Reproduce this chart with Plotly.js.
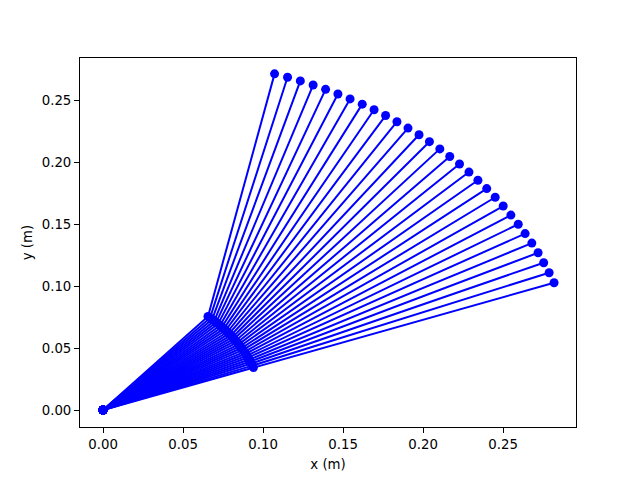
<!DOCTYPE html>
<html>
<head>
<meta charset="utf-8">
<script src="https://cdn.plot.ly/plotly-3.0.1.min.js"></script>
<style>html,body{margin:0;padding:0;background:#fff}#plot{width:640px;height:480px}</style>
</head>
<body>
<div id="plot"></div>
<script>
// Base joint
const baseX = 0.0, baseY = 0.0;
// Elbow positions (m)
const elbowX = [0.0656,0.0669,0.0682,0.0695,0.0707,0.0719,0.0731,0.0743,0.0755,0.0766,
                0.0777,0.0788,0.0799,0.0809,0.0819,0.0829,0.0839,0.0848,0.0857,0.0866,
                0.0875,0.0883,0.0891,0.0899,0.0906,0.0914,0.0921,0.0927,0.0934,0.0940];
const elbowY = [0.0755,0.0743,0.0731,0.0719,0.0707,0.0695,0.0682,0.0669,0.0656,0.0643,
                0.0629,0.0616,0.0602,0.0588,0.0574,0.0559,0.0545,0.0530,0.0515,0.0500,
                0.0485,0.0469,0.0454,0.0438,0.0423,0.0407,0.0391,0.0375,0.0358,0.0342];
// End-effector positions (m)
const endX = [0.1072,0.1153,0.1233,0.1313,0.1391,0.1468,0.1544,0.1620,0.1694,0.1766,
              0.1837,0.1906,0.1975,0.2040,0.2105,0.2167,0.2228,0.2287,0.2343,0.2398,
              0.2451,0.2501,0.2549,0.2595,0.2638,0.2680,0.2719,0.2754,0.2788,0.2819];
const endY = [0.2711,0.2684,0.2654,0.2621,0.2586,0.2549,0.2509,0.2467,0.2422,0.2375,
              0.2325,0.2274,0.2220,0.2164,0.2106,0.2045,0.1984,0.1919,0.1853,0.1786,
              0.1716,0.1645,0.1572,0.1498,0.1423,0.1346,0.1268,0.1188,0.1107,0.1026];
const tickVals = [0.00,0.05,0.10,0.15,0.20,0.25];

const traces = elbowX.map((_, i) => ({
  x: [baseX, elbowX[i], endX[i]],
  y: [baseY, elbowY[i], endY[i]],
  mode: 'lines+markers',
  type: 'scatter',
  line: {color: '#0000ff', width: 2},
  marker: {color: '#0000ff', size: 9},
  showlegend: false,
  hoverinfo: 'skip'
}));

const axisCommon = {
  showgrid: false, zeroline: false, showline: true, mirror: true,
  linecolor: '#000', linewidth: 1, ticks: 'outside', ticklen: 5, tickwidth: 1,
  tickcolor: '#000', tickformat: '.2f', tickvals: tickVals,
  tickfont: {family: 'DejaVu Sans', size: 13.3, color: '#000'}
};

const layout = {
  width: 640, height: 480,
  margin: {l: 80, r: 64, t: 58, b: 53},
  paper_bgcolor: '#fff', plot_bgcolor: '#fff',
  font: {family: 'DejaVu Sans', size: 13.3, color: '#000'},
  xaxis: Object.assign({}, axisCommon, {
    range: [-0.0144, 0.2956],
    title: {text: 'x (m)', font: {family: 'DejaVu Sans', size: 13.3}, standoff: 8}
  }),
  yaxis: Object.assign({}, axisCommon, {
    range: [-0.0137, 0.2839],
    title: {text: 'y (m)', font: {family: 'DejaVu Sans', size: 13.3}, standoff: 6}
  })
};

Plotly.newPlot('plot', traces, layout, {displayModeBar: false, staticPlot: true});
</script>
</body>
</html>
